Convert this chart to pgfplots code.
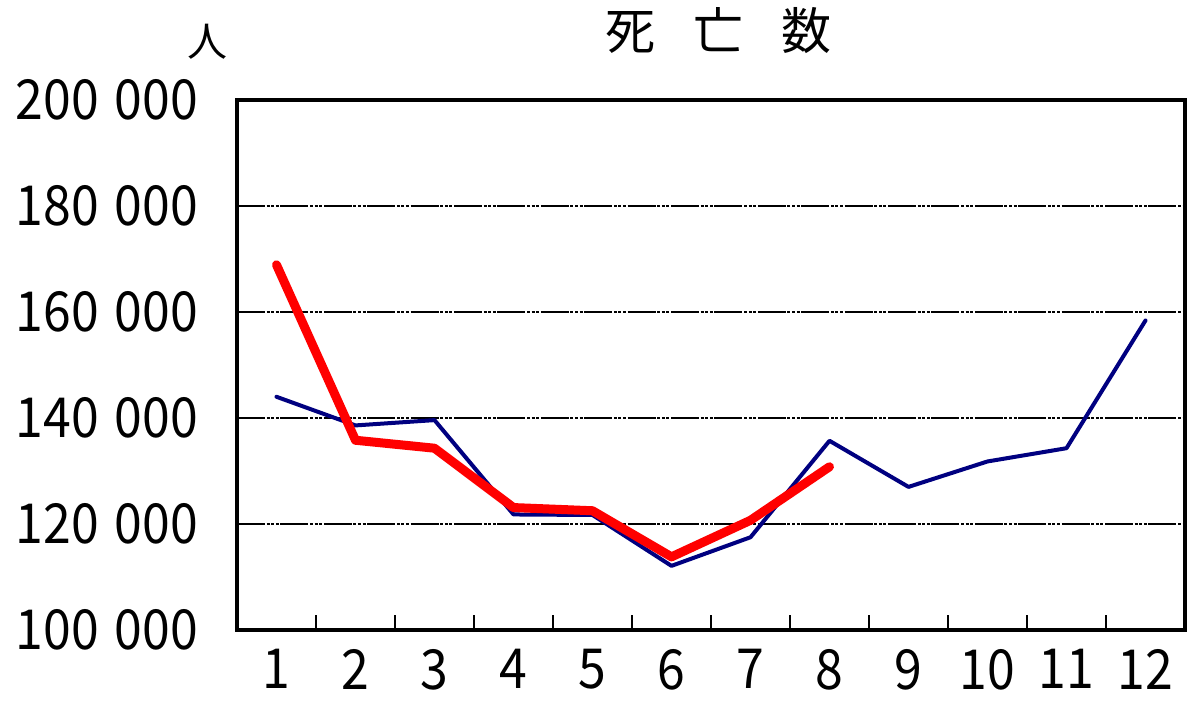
\documentclass[border=0pt]{standalone}
\usepackage{fontspec}
\setmainfont{Noto Sans CJK JP}
\usepackage{graphicx}
\usepackage{pgfplots}
\pgfplotsset{compat=1.18}
\definecolor{navy}{RGB}{0,0,128}
\newcommand\tl[1]{\scalebox{1.04}[1.15]{#1}}
\newcommand\gap{\hspace{0.32em}}
\begin{document}
\begin{tikzpicture}
\useasboundingbox (-118.5bp,-40bp) rectangle (481.5bp,315bp);
\begin{axis}[
  at={(0,0)}, anchor=south west,
  scale only axis, width=474bp, height=265bp,
  xmin=0.5, xmax=12.5, ymin=100000, ymax=200000,
  scaled y ticks=false,
  axis line style={line width=2bp, black},
  xtick={1,...,12},
  minor xtick={1.5,2.5,...,11.5},
  xtick pos=bottom, ytick pos=left,
  tick align=inside,
  major tick length=0pt,
  minor tick length=7.5bp,
  minor tick style={line width=0.6bp, black},
  ytick={100000,120000,140000,160000,180000,200000},
  yticklabels={\tl{100\gap000},\tl{120\gap000},\tl{140\gap000},\tl{160\gap000},\tl{180\gap000},\tl{200\gap000}},
  xticklabels={\tl{1},\tl{2},\tl{3},\tl{4},\tl{5},\tl{6},\tl{7},\tl{8},\tl{9},\tl{10},\tl{11},\tl{12}},
  ticklabel style={font=\fontsize{24bp}{28bp}\selectfont, text=black},
  yticklabel style={xshift=-16bp},
  xticklabel style={yshift=-6bp},
  ymajorgrids,
  major grid style={line width=0.6bp, black, dash pattern=on 14bp off 0.8bp on 1.5bp off 0.8bp on 1.5bp off 0.8bp on 1.5bp off 0.8bp},
  clip=false,
]
\addplot[navy, line width=2bp, line join=round, line cap=round] coordinates {
(1,144000) (2,138600) (3,139600) (4,121800) (5,121700) (6,112100)
(7,117500) (8,135700) (9,127000) (10,131800) (11,134300) (12,158400)};
\addplot[red, line width=4.5bp, line join=round, line cap=round] coordinates {
(1,168900) (2,135800) (3,134300) (4,123100) (5,122500) (6,113800)
(7,120700) (8,130800)};
\node[font=\fontsize{25bp}{30bp}\selectfont, anchor=center] at (rel axis cs:0.5075,0) [yshift=299.5bp] {死\hspace{19bp}亡\hspace{19bp}数};
\node[font=\fontsize{20bp}{24bp}\selectfont, anchor=center] at (rel axis cs:0,0) [xshift=-14.5bp, yshift=294bp] {人};
\end{axis}
\end{tikzpicture}
\end{document}
